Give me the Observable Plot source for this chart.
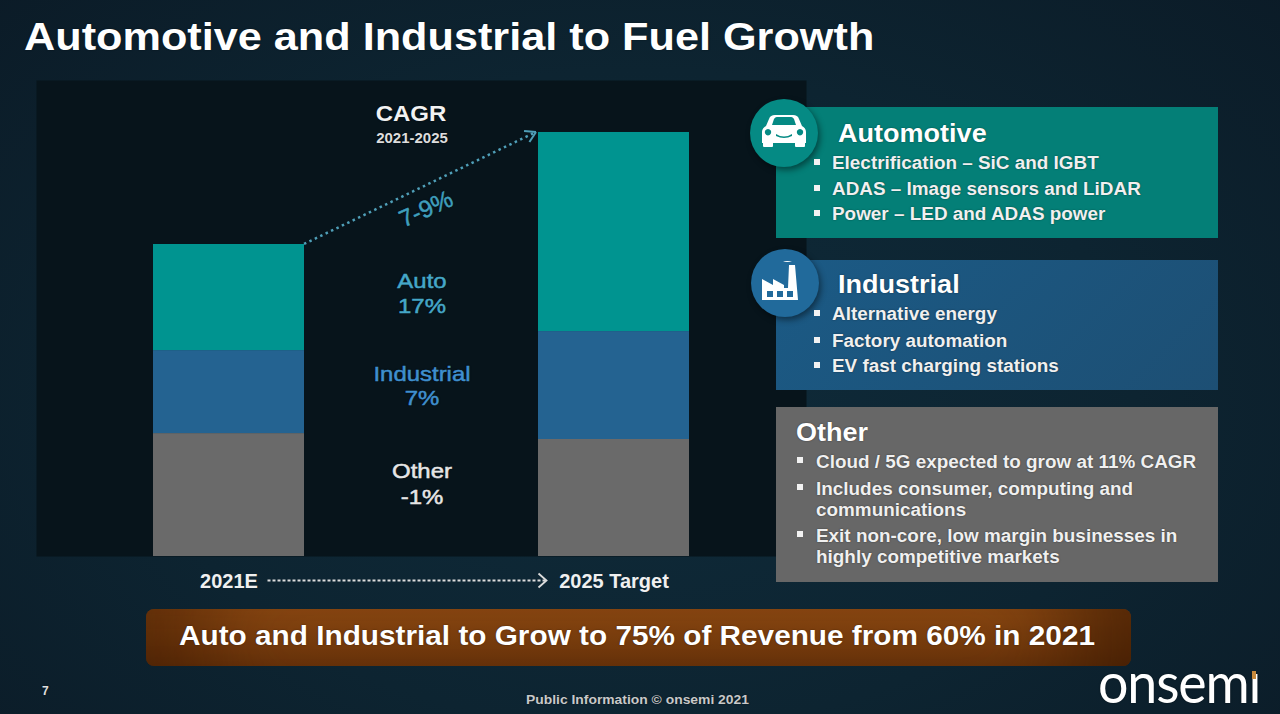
<!DOCTYPE html>
<html>
<head>
<meta charset="utf-8">
<script src="https://cdn.jsdelivr.net/npm/d3@7"></script>
<script src="https://cdn.jsdelivr.net/npm/@observablehq/plot@0.6"></script>
<style>
html,body{margin:0;padding:0;width:1280px;height:714px;overflow:hidden;background:#10222f}
#page{position:relative;width:1280px;height:714px;overflow:hidden;
  background:radial-gradient(ellipse 900px 600px at 640px 400px,#0f2b3a 0%,#0d2431 55%,#0b1b27 100%);
  font-family:"Liberation Sans",Arial,sans-serif;font-weight:700;color:#fff}
#page svg.chart{position:absolute;left:0;top:0;overflow:visible;background:transparent}
.t{position:absolute;white-space:nowrap;text-shadow:0 0 1.5px rgba(0,0,0,.55)}
.box{position:absolute}
.sq{position:absolute;width:6px;height:6px;background:#f2f2f2;transform:translateY(-50%)}
.circle{position:absolute;border-radius:50%;width:68px;height:68px;box-shadow:2px 3px 6px rgba(0,0,0,.45)}
</style>
</head>
<body>
<div id="page"></div>
<script>
// ---- chart data (index, 2021E total = 100) ----
const years = ["2021E", "2025 Target"];
const segments = ["Other", "Industrial", "Auto"];
const segmentColors = ["#6a6a6a", "#246391", "#009490"];
const values2021 = [39.4, 26.6, 34.0];
const values2025 = [37.5, 34.6, 63.8];

// ---- text ----
const titleText = "Automotive and Industrial to Fuel Growth";
const bannerText = "Auto and Industrial to Grow to 75% of Revenue from 60% in 2021";
const cagrHead = ["CAGR", "2021-2025"];
const cagrRange = "7-9%";
const cagrLabels = [["Auto", "17%"], ["Industrial", "7%"], ["Other", "-1%"]];
const autoItems = ["Electrification – SiC and IGBT", "ADAS – Image sensors and LiDAR", "Power – LED and ADAS power"];
const indItems = ["Alternative energy", "Factory automation", "EV fast charging stations"];
const otherItems = ["Cloud / 5G expected to grow at 11% CAGR", "Includes consumer, computing and", "communications", "Exit non-core, low margin businesses in", "highly competitive markets"];

const rows = [];
segments.forEach((s, i) => {
  rows.push({year: years[0], segment: s, value: values2021[i]});
  rows.push({year: years[1], segment: s, value: values2025[i]});
});
const totals = [d3.sum(values2021), d3.sum(values2025)];

function growthArrows(index, {x, y}) {
  const g = d3.create("svg:g").attr("fill", "none");
  const bw = typeof x.bandwidth === "function" ? x.bandwidth() : x.bandwidth;
  const x0 = x(years[0]) + bw, y0 = y(totals[0]);
  const x1 = x(years[1]) - 2, y1 = y(totals[1]);
  g.append("line").attr("x1", x0).attr("y1", y0).attr("x2", x1).attr("y2", y1)
    .attr("stroke", "#4f9fb8").attr("stroke-width", 2.5).attr("stroke-dasharray", "2.5 3.5");
  const ang = Math.atan2(y1 - y0, x1 - x0);
  [ang + 2.6, ang - 2.6].forEach(a => {
    g.append("line").attr("x1", x1).attr("y1", y1)
      .attr("x2", x1 + 12 * Math.cos(a)).attr("y2", y1 + 12 * Math.sin(a))
      .attr("stroke", "#4f9fb8").attr("stroke-width", 2);
  });
  const ya = y(0) + 24.5;
  const xa = x(years[0]) + bw / 2 + 39, xb = x(years[1]) + bw / 2 - 67;
  g.append("line").attr("x1", xa).attr("y1", ya).attr("x2", xb).attr("y2", ya)
    .attr("stroke", "#dcdcdc").attr("stroke-width", 2).attr("stroke-dasharray", "3 2");
  g.append("path").attr("d", `M${xb - 8},${ya - 7}L${xb},${ya}L${xb - 8},${ya + 7}`)
    .attr("stroke", "#dcdcdc").attr("stroke-width", 1.8);
  return g.node();
}

const chart = Plot.plot({
  width: 1280, height: 714,
  marginLeft: 36, marginRight: 474, marginTop: 80, marginBottom: 158,
  x: {domain: years, paddingInner: 0.608, paddingOuter: 0.304, label: null},
  y: {domain: [0, 152.56], axis: null},
  color: {domain: segments, range: segmentColors},
  style: {background: "transparent", fontFamily: "'Liberation Sans',Arial,sans-serif"},
  marks: [
    Plot.frame({fill: "#07141b", stroke: null}),
    Plot.barY(rows, {x: "year", y: "value", fill: "segment", order: segments}),
    Plot.axisX({tickSize: 0, tickPadding: 17, fontSize: 20, fontWeight: 700, fill: "#f0f0f0", label: null}),
    growthArrows
  ]
});
chart.classList.add("chart");

const page = document.getElementById("page");
page.appendChild(chart);

function txt(s, x, y, size, color, center, stretch, extra) {
  const d = document.createElement("div");
  d.className = "t";
  d.textContent = s;
  const sx = stretch || 1.08;
  const tf = center ? `translate(-50%,-50%) scaleX(${sx})` : `translateY(-50%) scaleX(${sx})`;
  const origin = center ? "center center" : "left center";
  d.style.cssText = `left:${x}px;top:${y}px;font-size:${size}px;color:${color};transform:${tf};transform-origin:${origin};${extra || ""}`;
  page.appendChild(d);
  return d;
}
function box(x, y, w, h, bg, extra) {
  const d = document.createElement("div");
  d.className = "box";
  d.style.cssText = `left:${x}px;top:${y}px;width:${w}px;height:${h}px;background:${bg};${extra || ""}`;
  page.appendChild(d);
  return d;
}
function bullet(x, y) {
  const d = document.createElement("div");
  d.className = "sq";
  d.style.left = x + "px"; d.style.top = y + "px";
  page.appendChild(d);
}

// title
txt(titleText, 24, 37, 38.5, "#ffffff", false, 1.123);

// centre labels
txt(cagrHead[0], 411, 114, 22, "#f2f2f2", true, 1.09);
txt(cagrHead[1], 412, 138, 14, "#dddddd", true, 1.07);
const rangeDiv = txt(cagrRange, 426, 209, 24, "#3f9fbd", true, 1, "font-weight:400;-webkit-text-stroke:.5px #3f9fbd");
rangeDiv.style.transform = "translate(-50%,-50%) rotate(-24deg)";
const labelColors = ["#45a7c8", "#3f8fce", "#e6e6e6"];
const labelY = [[281, 306], [374, 398], [471, 497]];
cagrLabels.forEach((l, i) => {
  const ex = "font-weight:400;-webkit-text-stroke:.5px " + labelColors[i];
  txt(l[0], 422, labelY[i][0], 21, labelColors[i], true, 1.14, ex);
  txt(l[1], 422, labelY[i][1], 21, labelColors[i], true, 1.14, ex);
});

// right panels
box(776, 107, 442, 131, "#047f77");
box(776, 260, 442, 130, "linear-gradient(135deg,#1b5a85,#1d4f74)");
box(776, 407, 442, 175, "#676767");

function circle(cx, cy, bg, svg) {
  const d = document.createElement("div");
  d.className = "circle";
  d.style.left = (cx - 34) + "px"; d.style.top = (cy - 34) + "px"; d.style.background = bg;
  d.innerHTML = svg;
  page.appendChild(d);
}
circle(784, 133, "#058a84",
  `<svg width="68" height="68" viewBox="0 0 68 68"><path fill="#fff" fill-rule="evenodd" d="M12 44V33c0-3 2-5 4-6l3-7c1-3 3-4 6-4h18c3 0 5 1 6 4l3 7c2 1 4 3 4 6v11h-1v3c0 1-1 1-2 1h-6c-1 0-2 0-2-1v-3H23v3c0 1-1 1-2 1h-6c-1 0-2 0-2-1v-3zM22 26h24l-2-6c-1-1-1-2-3-2H27c-2 0-2 1-3 2zM18 30a3.200 3.200 0 1 0 .01 0zM50 30a3.200 3.200 0 1 0 .01 0zM26 35q8 5 16 0v2q-8 4-16 0z"/></svg>`);
circle(785, 283, "#216a9b",
  `<svg width="68" height="68" viewBox="0 0 68 68"><path fill="#fff" fill-rule="evenodd" d="M11 51V30l11 6v-6l11 6v3h4l1-23h6l3 35zM16 42h6v6h-6zM26 42h6v6h-6zM36 42h6v6h-6z"/><path fill="#fff" d="M32 13q4-2 9 0-5 0-9 0z"/></svg>`);

txt("Automotive", 838, 133, 25.5, "#fff", false, 1.06);
autoItems.forEach((s, i) => {
  const y = [163, 189, 214][i];
  bullet(814, y - 1); txt(s, 832, y, 17.5, "#f0f0f0");
});
txt("Industrial", 838, 284, 25.5, "#fff", false, 1.06);
indItems.forEach((s, i) => {
  const y = [314, 341, 366][i];
  bullet(814, y - 1); txt(s, 832, y, 17.5, "#f0f0f0");
});
txt("Other", 796, 432, 25.5, "#fff", false, 1.06);
otherItems.forEach((s, i) => {
  const y = [462, 489, 510, 536, 557][i];
  if (i !== 2 && i !== 4) bullet(797, y - 2);
  txt(s, 816, y, 17.5, "#f0f0f0");
});

// banner
box(146, 609, 985, 57, "linear-gradient(180deg,#8d4a12 0%,#6b350b 100%)", "border-radius:8px;box-shadow:inset -120px 0 90px -60px rgba(50,20,0,.6),inset 120px 0 90px -60px rgba(50,20,0,.45)");
txt(bannerText, 637, 636, 27.5, "#fff", true, 1.082);

// footer
txt("7", 42, 691, 12, "#e0e0e0", false, 1);
txt("Public Information  © onsemi 2021", 526, 699, 13, "#c9c9c9", false, 1.067);
txt("onsemı", 1098, 681, 56, "#fff", false, 0.96, "font-family:Lato,'Open Sans',sans-serif;font-weight:400;letter-spacing:-1.2px");
box(1252, 671, 4, 8, "#c8893c");
</script>
</body>
</html>
